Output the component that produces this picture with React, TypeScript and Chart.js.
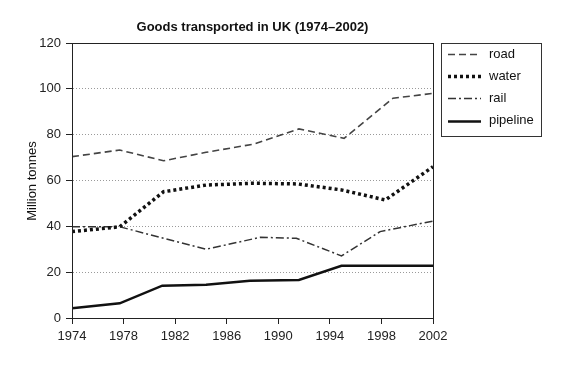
import React, { useEffect, useRef } from "react";
import { Chart, registerables } from "chart.js";

Chart.register(...registerables);

const TITLE = "Goods transported in UK (1974–2002)";
const Y_TITLE = "Million tonnes";
const X_TICKS = [1974, 1978, 1982, 1986, 1990, 1994, 1998, 2002];
const Y_TICKS = [0, 20, 40, 60, 80, 100, 120];

const roadYears = [1974, 1977.7, 1981.1, 1984.4, 1988.1, 1991.6, 1995.1, 1998.9, 2002];
const roadValues = [70.4, 73.3, 68.6, 72.3, 75.9, 82.5, 78.4, 95.9, 98.0];

const waterYears = [1974, 1977.7, 1981.1, 1984.4, 1988.0, 1991.5, 1994.9, 1998.3, 2002];
const waterValues = [37.7, 39.8, 55.1, 58.0, 58.8, 58.5, 55.9, 51.5, 66.0];

const railYears = [1974, 1977.7, 1984.4, 1988.6, 1991.4, 1994.9, 1997.9, 2002];
const railValues = [39.8, 39.8, 30.0, 35.2, 34.8, 27.1, 37.7, 42.3];

const pipelineYears = [1974, 1977.7, 1981.0, 1984.4, 1987.8, 1991.6, 1994.9, 2002];
const pipelineValues = [4.2, 6.4, 14.1, 14.5, 16.3, 16.6, 22.8, 22.8];

const toPoints = (xs: number[], ys: number[]) => xs.map((x, i) => ({ x, y: ys[i] }));

const FONT = "Arial, 'Liberation Sans', sans-serif";

const decorPlugin = {
  id: "decor",
  afterDraw(chart: any) {
    const { ctx, chartArea } = chart;
    const { left, right, top, bottom } = chartArea;
    ctx.save();
    // plot box
    ctx.strokeStyle = "#222";
    ctx.lineWidth = 1;
    ctx.setLineDash([]);
    ctx.strokeRect(left + 0.5, top + 0.5, right - left, bottom - top);
    // title
    ctx.fillStyle = "#111";
    ctx.font = `bold 13px ${FONT}`;
    ctx.textAlign = "center";
    ctx.textBaseline = "middle";
    ctx.fillText(TITLE, (left + right) / 2, 27);
    // y title
    ctx.font = `13px ${FONT}`;
    ctx.translate(32, 181);
    ctx.rotate(-Math.PI / 2);
    ctx.fillText(Y_TITLE, 0, 0);
    ctx.restore();

    // legend
    ctx.save();
    const bx = 441, by = 43, bw = 100, bh = 93;
    ctx.strokeStyle = "#333";
    ctx.lineWidth = 1;
    ctx.strokeRect(bx + 0.5, by + 0.5, bw, bh);
    ctx.font = `13px ${FONT}`;
    ctx.textAlign = "left";
    ctx.textBaseline = "middle";
    chart.data.datasets.forEach((ds: any, i: number) => {
      const y = 54 + i * 22.2;
      ctx.strokeStyle = ds.borderColor;
      ctx.lineWidth = ds.borderWidth;
      ctx.setLineDash(ds.borderDash || []);
      ctx.lineCap = "butt";
      ctx.beginPath();
      ctx.moveTo(448, Math.round(y) + 0.5);
      ctx.lineTo(481, Math.round(y) + 0.5);
      ctx.stroke();
      ctx.setLineDash([]);
      ctx.fillStyle = "#111";
      ctx.fillText(ds.label, 489, y);
    });
    ctx.restore();
  },
};

export default function App() {
  const ref = useRef<HTMLCanvasElement | null>(null);
  useEffect(() => {
    if (!ref.current) return;
    const chart = new Chart(ref.current, {
      type: "line",
      data: {
        datasets: [
          {
            label: "road",
            data: toPoints(roadYears, roadValues),
            borderColor: "#444",
            borderWidth: 1.6,
            borderDash: [7, 4],
            pointRadius: 0,
            tension: 0,
          },
          {
            label: "water",
            data: toPoints(waterYears, waterValues),
            borderColor: "#111",
            borderWidth: 3.5,
            borderDash: [3, 3],
            pointRadius: 0,
            tension: 0,
          },
          {
            label: "rail",
            data: toPoints(railYears, railValues),
            borderColor: "#333",
            borderWidth: 1.5,
            borderDash: [8, 3, 2, 3],
            pointRadius: 0,
            tension: 0,
          },
          {
            label: "pipeline",
            data: toPoints(pipelineYears, pipelineValues),
            borderColor: "#111",
            borderWidth: 2.5,
            pointRadius: 0,
            tension: 0,
          },
        ] as any,
      },
      options: {
        animation: false,
        responsive: true,
        maintainAspectRatio: false,
        layout: { padding: { left: 0, right: 133, top: 43, bottom: 38 } },
        plugins: { legend: { display: false }, title: { display: false }, tooltip: { enabled: false } },
        scales: {
          x: {
            type: "linear",
            min: 1974,
            max: 2002,
            afterFit: (s: any) => { s.height = 30; },
            afterBuildTicks: (s: any) => { s.ticks = X_TICKS.map((v) => ({ value: v })); },
            ticks: {
              color: "#222",
              font: { family: FONT, size: 13 },
              padding: 5,
              maxRotation: 0,
              autoSkip: false,
              callback: (v: any) => String(v),
            },
            grid: { drawOnChartArea: false, tickLength: 6, tickColor: "#222", color: "#222" },
            border: { color: "#222", width: 1 },
          },
          y: {
            min: 0,
            max: 120,
            afterFit: (s: any) => { s.width = 72; },
            afterBuildTicks: (s: any) => { s.ticks = Y_TICKS.map((v) => ({ value: v })); },
            ticks: {
              color: "#222",
              font: { family: FONT, size: 13 },
              padding: 5,
              callback: (v: any) => String(v),
            },
            grid: { color: "#9a9a9a", lineWidth: 1, tickLength: 6, tickColor: "#222" },
            border: { color: "#222", width: 1, dash: [1, 2] },
          },
        },
      } as any,
      plugins: [decorPlugin],
    });
    return () => chart.destroy();
  }, []);
  return (
    <div style={{ position: "fixed", left: 0, top: 0, width: 566, height: 386, background: "#fff" }}>
      <canvas ref={ref} />
    </div>
  );
}
